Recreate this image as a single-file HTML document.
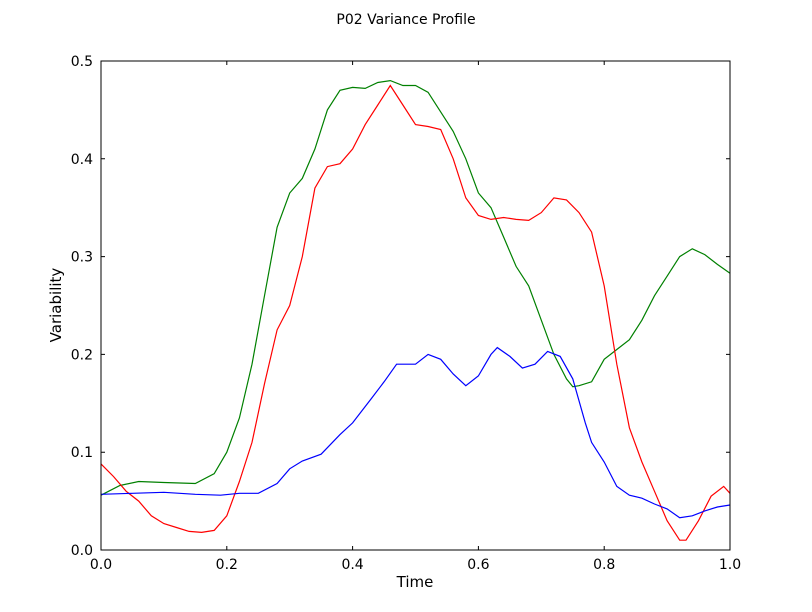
<!DOCTYPE html>
<html><head><meta charset="utf-8"><style>
html,body{margin:0;padding:0;background:#fff;}
svg{display:block;font-family:"DejaVu Sans","Liberation Sans",sans-serif;}
</style></head><body>
<svg id="chart" width="812" height="612">
<rect width="812" height="612" fill="#fff"/>
<text x="406" y="24" text-anchor="middle" font-size="14">P02 Variance Profile</text>
<text x="415" y="587" text-anchor="middle" font-size="15">Time</text>
<text x="61" y="305" text-anchor="middle" font-size="15" transform="rotate(-90 61 305)">Variability</text>
<g id="plot"></g>
</svg>
<script>
const blueT=[0,0.05,0.1,0.15,0.19,0.22,0.25,0.28,0.3,0.32,0.35,0.38,0.4,0.43,0.45,0.47,0.5,0.52,0.54,0.56,0.58,0.6,0.62,0.63,0.65,0.67,0.69,0.71,0.73,0.75,0.77,0.78,0.8,0.82,0.84,0.86,0.88,0.9,0.92,0.94,0.96,0.98,1.0];
const blueV=[0.057,0.058,0.059,0.057,0.056,0.058,0.058,0.068,0.083,0.091,0.098,0.118,0.13,0.155,0.172,0.19,0.19,0.2,0.195,0.18,0.168,0.178,0.2,0.207,0.198,0.186,0.19,0.203,0.198,0.175,0.13,0.11,0.09,0.065,0.056,0.053,0.047,0.042,0.033,0.035,0.04,0.044,0.046];
const greenT=[0,0.03,0.06,0.1,0.15,0.18,0.2,0.22,0.24,0.26,0.28,0.3,0.32,0.34,0.36,0.38,0.4,0.42,0.44,0.46,0.48,0.5,0.52,0.54,0.56,0.58,0.6,0.62,0.64,0.66,0.68,0.7,0.72,0.74,0.75,0.76,0.78,0.8,0.82,0.84,0.86,0.88,0.9,0.92,0.94,0.96,0.98,1.0];
const greenV=[0.056,0.066,0.07,0.069,0.068,0.078,0.1,0.135,0.19,0.26,0.33,0.365,0.38,0.41,0.45,0.47,0.473,0.472,0.478,0.48,0.475,0.475,0.468,0.448,0.428,0.4,0.365,0.35,0.32,0.29,0.27,0.235,0.2,0.175,0.167,0.168,0.172,0.195,0.205,0.215,0.235,0.26,0.28,0.3,0.308,0.302,0.292,0.283];
const redT=[0,0.02,0.04,0.06,0.08,0.1,0.12,0.14,0.16,0.18,0.2,0.22,0.24,0.26,0.28,0.3,0.32,0.34,0.36,0.38,0.4,0.42,0.44,0.46,0.48,0.5,0.52,0.54,0.56,0.58,0.6,0.62,0.64,0.66,0.68,0.7,0.72,0.74,0.76,0.78,0.8,0.82,0.84,0.86,0.88,0.9,0.92,0.93,0.95,0.97,0.99,1.0];
const redV=[0.088,0.075,0.06,0.05,0.035,0.027,0.023,0.019,0.018,0.02,0.035,0.07,0.11,0.17,0.225,0.25,0.3,0.37,0.392,0.395,0.41,0.435,0.455,0.475,0.455,0.435,0.433,0.43,0.4,0.36,0.342,0.338,0.34,0.338,0.337,0.345,0.36,0.358,0.345,0.325,0.27,0.19,0.125,0.09,0.06,0.03,0.01,0.01,0.03,0.055,0.065,0.058];
const xTicks=["0.0","0.2","0.4","0.6","0.8","1.0"];
const yTicks=["0.0","0.1","0.2","0.3","0.4","0.5"];
const L=101,R=730,T=61,B=550;
const xs=t=>L+t*(R-L), ys=v=>B-v/0.5*(B-T);
const g=document.getElementById('plot');
const NS='http://www.w3.org/2000/svg';
function line(ts,vs,color,name){
  const p=document.createElementNS(NS,'path');
  p.setAttribute('d',ts.map((t,i)=>(i?'L':'M')+xs(t).toFixed(1)+','+ys(vs[i]).toFixed(1)).join(''));
  p.setAttribute('fill','none');p.setAttribute('stroke',color);p.setAttribute('stroke-width','1.2');
  
  
  g.appendChild(p);
}
line(greenT,greenV,'#008000','green-series');
line(redT,redV,'#ff0000','red-series');
line(blueT,blueV,'#0000ff','blue-series');
const frame=document.createElementNS(NS,'rect');
frame.setAttribute('x',L);frame.setAttribute('y',T);frame.setAttribute('width',R-L);frame.setAttribute('height',B-T);
frame.setAttribute('fill','none');frame.setAttribute('stroke','#000');


g.appendChild(frame);
xTicks.forEach(s=>{const x=xs(parseFloat(s));
  const t=document.createElementNS(NS,'path');
  t.setAttribute('d',`M${x},${B}V${B-4}M${x},${T}V${T+4}`);t.setAttribute('stroke','#000');
  
  
  g.appendChild(t);
  const l=document.createElementNS(NS,'text');l.setAttribute('x',x);l.setAttribute('y',B+19);
  l.setAttribute('text-anchor','middle');l.setAttribute('font-size','14');l.textContent=s;
  
  
  g.appendChild(l);});
yTicks.forEach(s=>{const y=ys(parseFloat(s));
  const t=document.createElementNS(NS,'path');
  t.setAttribute('d',`M${L},${y}H${L+4}M${R},${y}H${R-4}`);t.setAttribute('stroke','#000');
  
  
  g.appendChild(t);
  const l=document.createElementNS(NS,'text');l.setAttribute('x',L-8);l.setAttribute('y',y+5);
  l.setAttribute('text-anchor','end');l.setAttribute('font-size','14');l.textContent=s;
  
  
  g.appendChild(l);});
</script>
</body></html>
